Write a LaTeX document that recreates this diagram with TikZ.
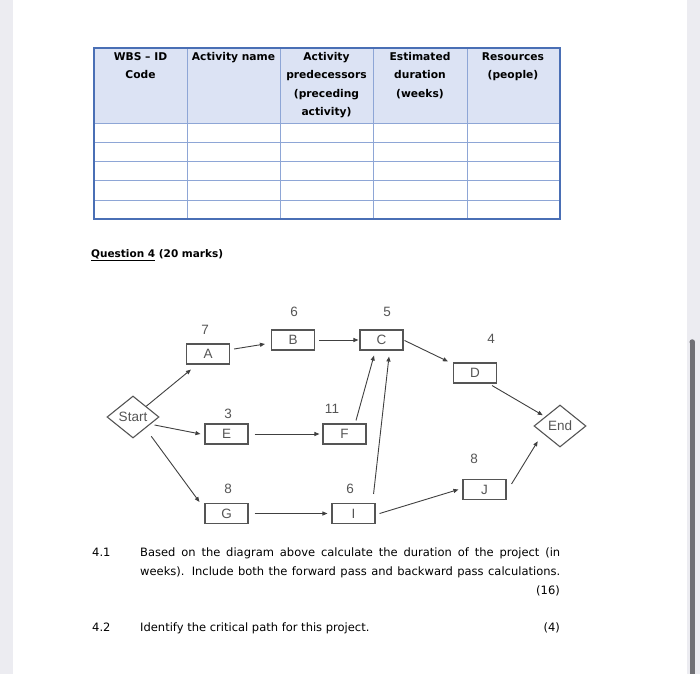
\documentclass[tikz,border=0pt]{standalone}
\usepackage{fontspec}
\setmainfont{DejaVu Sans}
\newfontfamily\arialf{Liberation Sans}
\usetikzlibrary{shapes.geometric,arrows.meta}
\definecolor{hdr}{HTML}{DCE3F4}
\definecolor{tblue}{HTML}{4A6FB5}
\definecolor{tline}{HTML}{8EA6D6}
\definecolor{dg}{HTML}{555555}
\definecolor{strip}{HTML}{ECECF1}
\definecolor{sbar}{HTML}{707075}
\begin{document}
\begin{tikzpicture}[x=1pt,y=-1pt,
  act/.style={draw=dg, line width=1.1pt, minimum width=43pt, minimum height=20pt, inner sep=0, font=\arialf\fontsize{13.5}{14}\selectfont, text=dg},
  dia/.style={diamond, draw=dg, line width=1.1pt, minimum width=52pt, minimum height=42pt, inner sep=0, font=\arialf\fontsize{13.5}{14}\selectfont, text=dg},
  dur/.style={font=\arialf\fontsize{13.5}{14}\selectfont, text=dg, inner sep=0},
  conn/.style={draw=black!75, line width=0.9pt, -{Triangle[length=5pt,width=4pt]}},
  hd/.style={font=\bfseries\fontsize{10.7}{12}\selectfont, anchor=base, inner sep=0},
  body/.style={font=\fontsize{11.5}{14}\selectfont, anchor=base west, inner sep=0}
]
\useasboundingbox (0,0) rectangle (700,674);
\fill[white] (0,0) rectangle (700,674);
% side strips and scrollbar
\fill[strip] (0,0) rectangle (13,674);
\fill[strip] (687,0) rectangle (700,674);
\fill[sbar] (689.5,342) rectangle (695,674);
\fill[sbar] (692.25,342) circle (2.75pt);

% table
\fill[hdr] (94,48) rectangle (560,123);
\foreach \yy in {123,142,161,180,200} \draw[tline, line width=0.9pt] (94,\yy) -- (560,\yy);
\foreach \xx in {187,280,373,467} \draw[tline, line width=0.9pt] (\xx,48) -- (\xx,219);
\draw[tblue, line width=2pt] (94,48) rectangle (560,219);

\node[hd] (h1a) at (140.5,61) {WBS – ID};
\node[hd] (h1b) at (140.5,79) {Code};
\node[hd] (h2a) at (233.5,61) {Activity name};
\node[hd] (h3a) at (326.5,61) {Activity};
\node[hd] (h3b) at (326.5,79) {predecessors};
\node[hd] (h3c) at (326.5,97) {(preceding};
\node[hd] (h3d) at (326.5,115) {activity)};
\node[hd] (h4a) at (420,61) {Estimated};
\node[hd] (h4b) at (420,79) {duration};
\node[hd] (h4c) at (420,97) {(weeks)};
\node[hd] (h5a) at (513,61) {Resources};
\node[hd] (h5b) at (513,79) {(people)};

\node[anchor=base west, inner sep=0, font=\bfseries\fontsize{10.5}{12}\selectfont] (q) at (91,257) {\underline{Question 4} (20 marks)};

% network
\node[dia] (Start) at (133,417) {Start};
\node[dia] (End) at (560,426) {End};
\node[act] (A) at (208,354) {A};
\node[act] (B) at (293,340) {B};
\node[act] (C) at (381.5,340) {C};
\node[act] (D) at (475,373) {D};
\node[act] (E) at (226.5,434) {E};
\node[act] (F) at (344.5,434) {F};
\node[act] (G) at (226.5,513.5) {G};
\node[act] (I) at (353.5,513.5) {I};
\node[act] (J) at (484.5,489.5) {J};

\node[dur] (dA) at (205,330) {7};
\node[dur] (dB) at (294,312) {6};
\node[dur] (dC) at (387,312) {5};
\node[dur] (dD) at (491,339) {4};
\node[dur] (dE) at (228,414) {3};
\node[dur] (dF) at (332,409) {11};
\node[dur] (dG) at (228,489) {8};
\node[dur] (dI) at (350,489) {6};
\node[dur] (dJ) at (474,459) {8};

\draw[conn] (Start.north east) -- ([xshift=5pt,yshift=-5pt]A.south west);
\draw[conn] ([xshift=4pt,yshift=5pt]A.east) -- ([xshift=-6pt,yshift=-4pt]B.west);
\draw[conn, shorten <=4pt, shorten >=1pt] (B.east) -- (C.west);
\draw[conn, shorten <=1pt] (C.east) -- ([xshift=-5pt,yshift=1pt]D.north west);
\draw[conn] ([xshift=-5pt,yshift=-2pt]D.south east) -- ([xshift=-4pt]End.north west);
\draw[conn] ([xshift=-5pt,yshift=-8pt]Start.east) -- ([xshift=-4pt]E.west);
\draw[conn, shorten <=6pt, shorten >=3pt] (E.east) -- (F.west);
\draw[conn] ([xshift=11.5pt,yshift=3pt]F.north) -- ([xshift=-7.5pt,yshift=-5pt]C.south);
\draw[conn] ([xshift=-2pt,yshift=9pt]I.north east) -- ([xshift=7.5pt,yshift=-6pt]C.south);
\draw[conn] ([xshift=5pt,yshift=-8.5pt]Start.south east) -- ([xshift=-5pt,yshift=1pt]G.north west);
\draw[conn, shorten <=6pt, shorten >=4pt] (G.east) -- (I.west);
\draw[conn] ([xshift=4pt]I.east) -- ([xshift=-4pt]J.west);
\draw[conn] ([xshift=5pt,yshift=-5pt]J.north east) -- ([xshift=-9pt,yshift=-4.5pt]End.south west);

% questions
\node[body] (n41) at (92,556) {4.1};
\node[body] (l1) at (140,556) {\hbox to 420pt{Based on the diagram above calculate the duration of the project (in}};
\node[body] (l2) at (140,575) {\hbox to 420pt{weeks). Include both the forward pass and backward pass calculations.}};
\node[body, anchor=base east] (m1) at (560,594) {(16)};
\node[body] (n42) at (92,631) {4.2};
\node[body] (l3) at (140,631) {Identify the critical path for this project.};
\node[body, anchor=base east] (m2) at (560,631) {(4)};
\end{tikzpicture}
\end{document}
